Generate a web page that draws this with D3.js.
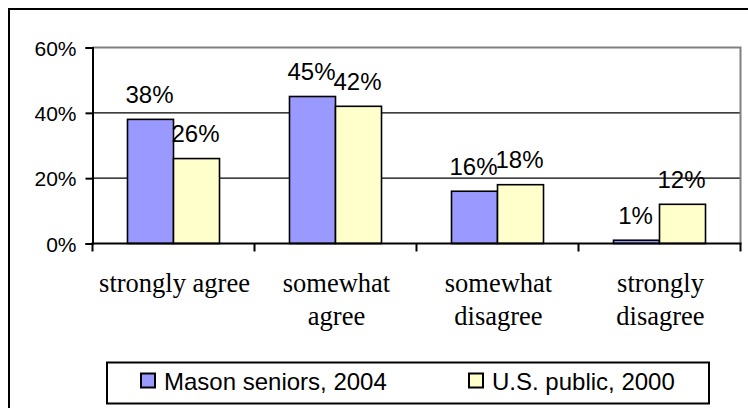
<!DOCTYPE html>
<html>
<head>
<meta charset="utf-8">
<script src="https://cdn.jsdelivr.net/npm/d3@7"></script>
<style>
  html, body { margin: 0; padding: 0; background: #fff; }
  svg { display: block; }
</style>
</head>
<body>
<svg id="chart" width="748" height="408"></svg>
<script>
// Survey responses: share of respondents in each agreement category
const categories = ["strongly agree", "somewhat agree", "somewhat disagree", "strongly disagree"];
const categoryLines = [["strongly agree"], ["somewhat", "agree"], ["somewhat", "disagree"], ["strongly", "disagree"]];
const seriesNames = ["Mason seniors, 2004", "U.S. public, 2000"];
const masonSeniors = [0.38, 0.45, 0.16, 0.01];
const usPublic = [0.26, 0.42, 0.18, 0.12];
const yTicks = [0, 0.2, 0.4, 0.6];
const seriesColors = ["#9999FF", "#FFFFCC"];

const seriesValues = [masonSeniors, usPublic];

const svg = d3.select("#chart");

// outer chart frame (top and left edges fall inside the canvas)
svg.append("rect")
  .attr("x", 9).attr("y", 9)
  .attr("width", 780).attr("height", 440)
  .attr("fill", "none").attr("stroke", "#000").attr("stroke-width", 2);

const plot = { left: 92.5, right: 740.5, top: 47.5, bottom: 243.5 };

const x0 = d3.scaleBand().domain(categories).range([plot.left, plot.right]).padding(0);
const groupWidth = x0.bandwidth() * 0.568;
const x1 = d3.scaleBand().domain(seriesNames).range([0, groupWidth]).padding(0);
const y = d3.scaleLinear().domain([0, 0.6]).range([plot.bottom, plot.top]);

// gridlines
svg.append("g").selectAll("line")
  .data(yTicks.filter(t => t > 0 && t < 0.6))
  .join("line")
  .attr("x1", plot.left).attr("x2", plot.right)
  .attr("y1", d => y(d)).attr("y2", d => y(d))
  .attr("stroke", "#000").attr("stroke-width", 1.2);

// plot area border (top and right, grey)
svg.append("path")
  .attr("d", `M${plot.left},${y(0.6)}H${plot.right}V${plot.bottom}`)
  .attr("fill", "none").attr("stroke", "#808080").attr("stroke-width", 2);

// bars
const groups = svg.append("g").selectAll("g")
  .data(categories)
  .join("g")
  .attr("transform", c => `translate(${x0(c) + (x0.bandwidth() - groupWidth) / 2},0)`);

groups.selectAll("rect")
  .data((c, i) => seriesNames.map((s, j) => ({ s, j, v: seriesValues[j][i] })))
  .join("rect")
  .attr("x", d => x1(d.s))
  .attr("y", d => y(d.v))
  .attr("width", x1.bandwidth())
  .attr("height", d => y(0) - y(d.v))
  .attr("fill", d => seriesColors[d.j])
  .attr("stroke", "#000").attr("stroke-width", 1.6);

// value labels
groups.selectAll("text")
  .data((c, i) => seriesNames.map((s, j) => ({ s, j, v: seriesValues[j][i] })))
  .join("text")
  .attr("x", d => x1(d.s) + x1.bandwidth() / 2 - 1)
  .attr("y", d => y(d.v) - 16.5)
  .attr("text-anchor", "middle")
  .attr("font-family", "Arial, 'Liberation Sans', sans-serif")
  .attr("font-size", 24)
  .attr("fill", "#000")
  .text(d => d3.format(".0%")(d.v));

// y axis
const yAxis = d3.axisLeft(y).tickValues(yTicks).tickFormat(d3.format(".0%")).tickSize(7).tickPadding(9);
const gy = svg.append("g").attr("transform", `translate(${plot.left},0)`).call(yAxis);
gy.select(".domain").attr("stroke", "#000").attr("stroke-width", 2);
gy.selectAll(".tick line").attr("stroke", "#000").attr("stroke-width", 2);
gy.selectAll(".tick text")
  .attr("font-family", "Arial, 'Liberation Sans', sans-serif")
  .attr("font-size", 21).attr("fill", "#000")
  .attr("dy", "0.36em");

// x axis with ticks between categories
const xEdges = categories.map(c => x0(c)).concat([plot.right]);
svg.append("line")
  .attr("x1", plot.left - 1).attr("x2", plot.right + 1)
  .attr("y1", plot.bottom).attr("y2", plot.bottom)
  .attr("stroke", "#000").attr("stroke-width", 2);
svg.append("g").selectAll("line")
  .data(xEdges)
  .join("line")
  .attr("x1", d => d).attr("x2", d => d)
  .attr("y1", plot.bottom).attr("y2", plot.bottom + 8)
  .attr("stroke", "#000").attr("stroke-width", 2);

// category labels
const catText = svg.append("g").selectAll("text")
  .data(categories)
  .join("text")
  .attr("x", c => x0(c) + x0.bandwidth() / 2 + 1)
  .attr("y", 292)
  .attr("text-anchor", "middle")
  .attr("font-family", "'Times New Roman', 'Liberation Serif', serif")
  .attr("font-size", 26.5)
  .attr("fill", "#000");
catText.selectAll("tspan")
  .data((c, i) => categoryLines[i])
  .join("tspan")
  .attr("x", function () { return d3.select(this.parentNode).attr("x"); })
  .attr("dy", (d, k) => k === 0 ? 0 : 33)
  .text(d => d);

// legend
const legend = svg.append("g");
legend.append("rect")
  .attr("x", 107).attr("y", 362.5)
  .attr("width", 602).attr("height", 41)
  .attr("fill", "#fff").attr("stroke", "#000").attr("stroke-width", 2);
const legendX = [141, 469];
const items = legend.selectAll("g.item")
  .data(seriesNames)
  .join("g").attr("class", "item")
  .attr("transform", (d, i) => `translate(${legendX[i]},0)`);
items.append("rect")
  .attr("x", 0).attr("y", 373.5)
  .attr("width", 14).attr("height", 14)
  .attr("fill", (d, i) => seriesColors[i])
  .attr("stroke", "#000").attr("stroke-width", 2);
items.append("text")
  .attr("x", 23).attr("y", 390)
  .attr("font-family", "Arial, 'Liberation Sans', sans-serif")
  .attr("font-size", 24)
  .attr("fill", "#000")
  .text(d => d);
</script>
</body>
</html>
